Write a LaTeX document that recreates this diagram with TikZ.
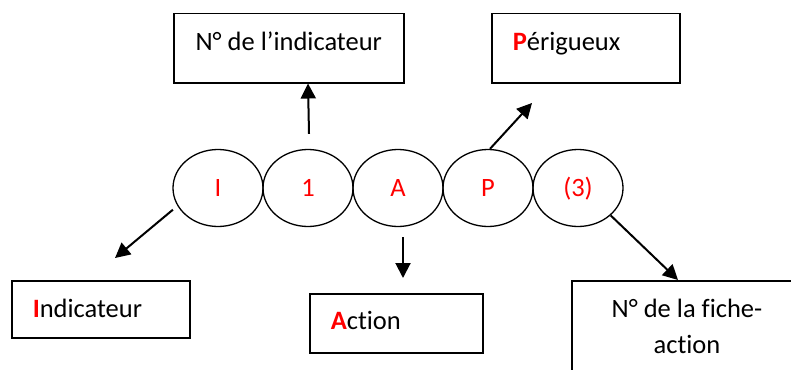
\documentclass[tikz,border=0pt]{standalone}
\usepackage{fontspec}
\setmainfont{Carlito}[Ligatures=NoCommon]
\usetikzlibrary{arrows.meta,shapes.geometric}
\definecolor{codered}{RGB}{255,0,0}
\newcommand{\leadletter}[1]{\textcolor{codered}{\textbf{#1}}}
\tikzset{
  code/.style={draw, ellipse, line width=1.3pt, minimum width=90pt, minimum height=77pt,
    inner sep=0pt, text=codered, text height=17pt, text depth=0pt},
  box/.style={draw, rectangle, line width=1.5pt, anchor=north west, inner ysep=0pt},
  arr/.style={line width=2pt, -{Triangle[length=15pt,width=15pt]}}
}
\begin{document}
\begin{tikzpicture}[x=1pt, y=-1pt, font=\fontsize{26.5}{36}\selectfont]
\useasboundingbox (0,0) rectangle (791,369);
\clip (0,0) rectangle (791,369);

% the chain of code letters
\node[code] (elI) at (218,188) {I};
\node[code] (el1) at (308,188) {1};
\node[code] (elA) at (398,188) {A};
\node[code] (elP) at (488,188) {P};
\node[code] (el3) at (578,188) {(3)};

% explanation boxes
\node[box, minimum width=230pt, text height=37pt, text depth=32pt, align=center]
  (num) at (173,13) {N° de l’indicateur};
\node[box, inner xsep=21pt, text width=146pt, text height=37pt, text depth=32pt, align=left]
  (per) at (491,13) {\leadletter{P}érigueux};
\node[box, inner xsep=21pt, text width=136pt, text height=37pt, text depth=20pt, align=left]
  (ind) at (11,280) {\leadletter{I}ndicateur};
\node[box, inner xsep=21pt, text width=131pt, text height=36pt, text depth=23pt, align=left]
  (act) at (309,293) {\leadletter{A}ction};
\node[box, minimum width=232pt, minimum height=130pt] (fiche) at (571,280) {};
\node[anchor=base, align=center] (fichetxt) at (687,353) {N° de la fiche-\\action};

% free ends of the arrows
\coordinate (indend) at (115,258);
\coordinate (perend) at (532,103);
\coordinate (actend) at (403,278);

% arrows
\draw[arr] ([shift={(1,-15)}]el1.north) -- (el1.north |- num.south);
\draw[arr] ([xshift=2pt]elP.north) -- (perend);
\draw[arr] ([shift={(-5,3)}]elI.205) -- (indend);
\draw[arr] ([shift={(5,10)}]elA.south) -- (actend);
\draw[arr] (el3.-40) -- ([xshift=107pt]fiche.north west);
\end{tikzpicture}
\end{document}
